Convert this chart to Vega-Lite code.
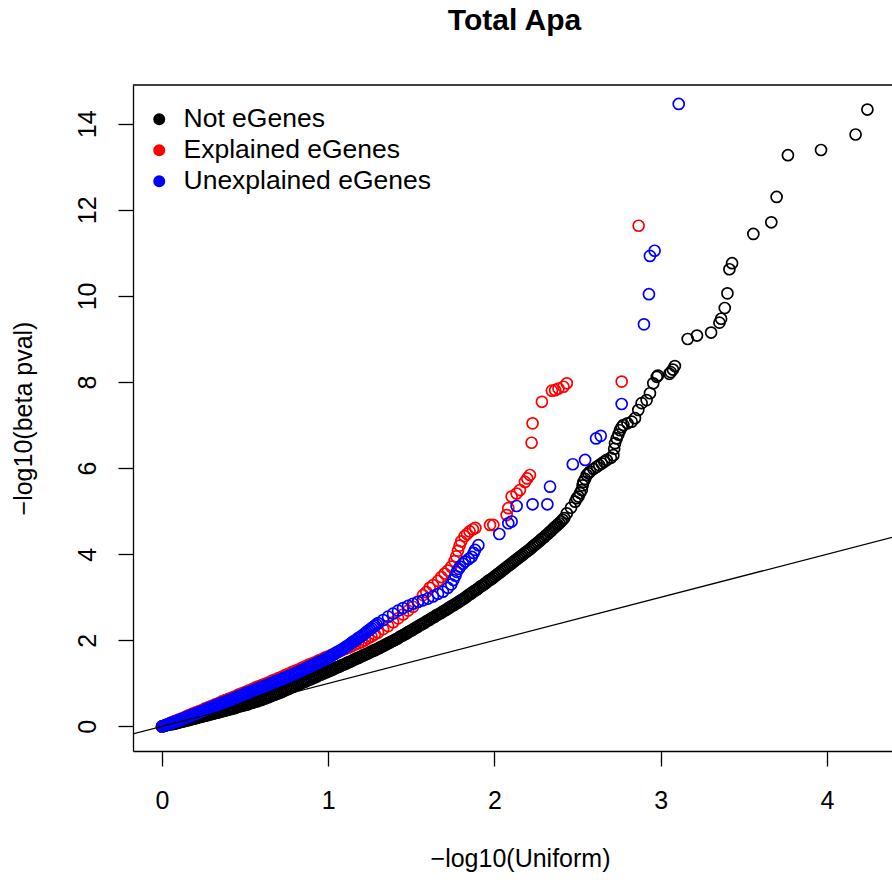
{
  "$schema": "https://vega.github.io/schema/vega-lite/v6.json",
  "width": 759,
  "height": 666,
  "autosize": {"type": "none"},
  "padding": {"left": 133, "top": 85, "right": 0, "bottom": 131},
  "background": "white",
  "config": {
    "view": {"stroke": null},
    "font": "Liberation Sans",
    "legend": {
      "orient": "none",
      "legendX": 13,
      "legendY": 21,
      "title": null,
      "padding": 0,
      "symbolType": "circle",
      "symbolSize": 36,
      "symbolStrokeWidth": 6,
      "labelFont": "Liberation Sans",
      "labelFontSize": 26.5,
      "labelColor": "black",
      "labelLimit": 0,
      "labelOffset": 11,
      "rowPadding": 0
    }
  },
  "title": {
    "text": "Total Apa",
    "font": "Liberation Sans",
    "fontSize": 30,
    "fontWeight": "bold",
    "color": "black",
    "anchor": "middle",
    "frame": "group",
    "baseline": "alphabetic",
    "offset": 24,
    "dx": 2
  },
  "datasets": {
    "notEgenes": [
      {"x":0.00,"y":0.00},{"x":0.01,"y":0.01},{"x":0.02,"y":0.02},{"x":0.03,"y":0.03},{"x":0.04,"y":0.04},
      {"x":0.05,"y":0.05},{"x":0.06,"y":0.05},{"x":0.07,"y":0.06},{"x":0.08,"y":0.07},{"x":0.09,"y":0.08},
      {"x":0.10,"y":0.09},{"x":0.11,"y":0.10},{"x":0.12,"y":0.11},{"x":0.13,"y":0.12},{"x":0.14,"y":0.13},
      {"x":0.15,"y":0.14},{"x":0.16,"y":0.15},{"x":0.17,"y":0.16},{"x":0.18,"y":0.17},{"x":0.19,"y":0.18},
      {"x":0.20,"y":0.19},{"x":0.21,"y":0.20},{"x":0.22,"y":0.21},{"x":0.23,"y":0.22},{"x":0.24,"y":0.23},
      {"x":0.25,"y":0.24},{"x":0.26,"y":0.25},{"x":0.27,"y":0.26},{"x":0.28,"y":0.27},{"x":0.29,"y":0.28},
      {"x":0.30,"y":0.29},{"x":0.31,"y":0.30},{"x":0.32,"y":0.31},{"x":0.33,"y":0.32},{"x":0.34,"y":0.33},
      {"x":0.35,"y":0.34},{"x":0.36,"y":0.35},{"x":0.37,"y":0.36},{"x":0.38,"y":0.37},{"x":0.39,"y":0.38},
      {"x":0.40,"y":0.39},{"x":0.41,"y":0.40},{"x":0.42,"y":0.41},{"x":0.43,"y":0.42},{"x":0.44,"y":0.43},
      {"x":0.45,"y":0.45},{"x":0.46,"y":0.46},{"x":0.47,"y":0.47},{"x":0.48,"y":0.48},{"x":0.49,"y":0.49},
      {"x":0.50,"y":0.50},{"x":0.51,"y":0.51},{"x":0.52,"y":0.52},{"x":0.53,"y":0.54},{"x":0.54,"y":0.55},
      {"x":0.55,"y":0.56},{"x":0.56,"y":0.57},{"x":0.57,"y":0.58},{"x":0.58,"y":0.60},{"x":0.59,"y":0.61},
      {"x":0.60,"y":0.62},{"x":0.61,"y":0.64},{"x":0.62,"y":0.65},{"x":0.63,"y":0.67},{"x":0.64,"y":0.68},
      {"x":0.65,"y":0.70},{"x":0.66,"y":0.71},{"x":0.67,"y":0.73},{"x":0.68,"y":0.74},{"x":0.69,"y":0.76},
      {"x":0.70,"y":0.77},{"x":0.71,"y":0.79},{"x":0.72,"y":0.80},{"x":0.73,"y":0.82},{"x":0.74,"y":0.84},
      {"x":0.75,"y":0.86},{"x":0.76,"y":0.87},{"x":0.77,"y":0.89},{"x":0.78,"y":0.91},{"x":0.79,"y":0.92},
      {"x":0.80,"y":0.94},{"x":0.81,"y":0.96},{"x":0.82,"y":0.97},{"x":0.83,"y":0.99},{"x":0.84,"y":1.01},
      {"x":0.85,"y":1.03},{"x":0.86,"y":1.04},{"x":0.87,"y":1.06},{"x":0.88,"y":1.08},{"x":0.89,"y":1.09},
      {"x":0.90,"y":1.11},{"x":0.91,"y":1.13},{"x":0.92,"y":1.14},{"x":0.93,"y":1.16},{"x":0.94,"y":1.18},
      {"x":0.95,"y":1.20},{"x":0.96,"y":1.21},{"x":0.97,"y":1.23},{"x":0.98,"y":1.25},{"x":0.99,"y":1.26},
      {"x":1.00,"y":1.28},{"x":1.01,"y":1.30},{"x":1.02,"y":1.31},{"x":1.03,"y":1.33},{"x":1.04,"y":1.35},
      {"x":1.05,"y":1.37},{"x":1.06,"y":1.38},{"x":1.07,"y":1.40},{"x":1.08,"y":1.42},{"x":1.09,"y":1.43},
      {"x":1.10,"y":1.45},{"x":1.11,"y":1.47},{"x":1.12,"y":1.49},{"x":1.13,"y":1.50},{"x":1.14,"y":1.52},
      {"x":1.15,"y":1.54},{"x":1.16,"y":1.56},{"x":1.17,"y":1.58},{"x":1.18,"y":1.59},{"x":1.19,"y":1.61},
      {"x":1.20,"y":1.63},{"x":1.21,"y":1.65},{"x":1.22,"y":1.67},{"x":1.23,"y":1.68},{"x":1.24,"y":1.70},
      {"x":1.25,"y":1.72},{"x":1.26,"y":1.74},{"x":1.27,"y":1.76},{"x":1.28,"y":1.77},{"x":1.29,"y":1.79},
      {"x":1.30,"y":1.81},{"x":1.31,"y":1.83},{"x":1.32,"y":1.85},{"x":1.33,"y":1.87},{"x":1.34,"y":1.89},
      {"x":1.35,"y":1.91},{"x":1.36,"y":1.93},{"x":1.37,"y":1.95},{"x":1.38,"y":1.97},{"x":1.39,"y":1.99},
      {"x":1.40,"y":2.01},{"x":1.41,"y":2.03},{"x":1.42,"y":2.05},{"x":1.43,"y":2.08},{"x":1.44,"y":2.10},
      {"x":1.45,"y":2.12},{"x":1.46,"y":2.14},{"x":1.47,"y":2.16},{"x":1.48,"y":2.19},{"x":1.49,"y":2.21},
      {"x":1.50,"y":2.23},{"x":1.51,"y":2.25},{"x":1.52,"y":2.28},{"x":1.53,"y":2.30},{"x":1.54,"y":2.32},
      {"x":1.55,"y":2.35},{"x":1.56,"y":2.37},{"x":1.57,"y":2.39},{"x":1.58,"y":2.41},{"x":1.59,"y":2.44},
      {"x":1.60,"y":2.46},{"x":1.61,"y":2.48},{"x":1.62,"y":2.51},{"x":1.63,"y":2.53},{"x":1.64,"y":2.55},
      {"x":1.65,"y":2.58},{"x":1.66,"y":2.60},{"x":1.67,"y":2.62},{"x":1.68,"y":2.64},{"x":1.69,"y":2.67},
      {"x":1.70,"y":2.69},{"x":1.71,"y":2.71},{"x":1.72,"y":2.74},{"x":1.73,"y":2.76},{"x":1.74,"y":2.79},
      {"x":1.75,"y":2.81},{"x":1.76,"y":2.83},{"x":1.77,"y":2.86},{"x":1.78,"y":2.88},{"x":1.79,"y":2.91},
      {"x":1.80,"y":2.93},{"x":1.81,"y":2.96},{"x":1.82,"y":2.98},{"x":1.83,"y":3.01},{"x":1.84,"y":3.04},
      {"x":1.85,"y":3.07},{"x":1.86,"y":3.09},{"x":1.87,"y":3.12},{"x":1.88,"y":3.15},{"x":1.89,"y":3.17},
      {"x":1.90,"y":3.20},{"x":1.91,"y":3.23},{"x":1.92,"y":3.26},{"x":1.93,"y":3.28},{"x":1.94,"y":3.31},
      {"x":1.95,"y":3.34},{"x":1.96,"y":3.37},{"x":1.97,"y":3.40},{"x":1.98,"y":3.42},{"x":1.99,"y":3.45},
      {"x":2.00,"y":3.48},{"x":2.01,"y":3.51},{"x":2.02,"y":3.54},{"x":2.03,"y":3.57},{"x":2.04,"y":3.60},
      {"x":2.05,"y":3.63},{"x":2.06,"y":3.66},{"x":2.07,"y":3.69},{"x":2.08,"y":3.72},{"x":2.09,"y":3.75},
      {"x":2.10,"y":3.78},{"x":2.11,"y":3.81},{"x":2.12,"y":3.84},{"x":2.13,"y":3.87},{"x":2.14,"y":3.90},
      {"x":2.15,"y":3.93},{"x":2.16,"y":3.96},{"x":2.17,"y":3.99},{"x":2.18,"y":4.02},{"x":2.19,"y":4.05},
      {"x":2.20,"y":4.08},{"x":2.21,"y":4.11},{"x":2.22,"y":4.14},{"x":2.23,"y":4.18},{"x":2.24,"y":4.21},
      {"x":2.25,"y":4.24},{"x":2.26,"y":4.27},{"x":2.27,"y":4.30},{"x":2.28,"y":4.34},{"x":2.29,"y":4.37},
      {"x":2.30,"y":4.40},{"x":2.31,"y":4.44},{"x":2.32,"y":4.47},{"x":2.33,"y":4.51},{"x":2.34,"y":4.54},
      {"x":2.35,"y":4.58},{"x":2.36,"y":4.62},{"x":2.37,"y":4.65},{"x":2.38,"y":4.69},{"x":2.39,"y":4.72},
      {"x":2.40,"y":4.76},{"x":2.41,"y":4.80},{"x":2.42,"y":4.84},{"x":2.435,"y":4.95},{"x":2.46,"y":5.08},
      {"x":2.485,"y":5.22},{"x":2.495,"y":5.30},{"x":2.505,"y":5.34},{"x":2.515,"y":5.42},{"x":2.525,"y":5.49},
      {"x":2.53,"y":5.60},{"x":2.535,"y":5.68},{"x":2.545,"y":5.75},{"x":2.555,"y":5.84},{"x":2.565,"y":5.88},
      {"x":2.575,"y":5.92},{"x":2.595,"y":5.98},{"x":2.615,"y":6.03},{"x":2.63,"y":6.07},{"x":2.645,"y":6.11},
      {"x":2.66,"y":6.15},{"x":2.675,"y":6.19},{"x":2.70,"y":6.24},{"x":2.715,"y":6.30},{"x":2.72,"y":6.45},
      {"x":2.725,"y":6.58},{"x":2.735,"y":6.69},{"x":2.745,"y":6.78},{"x":2.755,"y":6.88},{"x":2.765,"y":6.95},
      {"x":2.775,"y":7.00},{"x":2.80,"y":7.04},{"x":2.825,"y":7.08},{"x":2.845,"y":7.16},{"x":2.865,"y":7.35},
      {"x":2.885,"y":7.51},{"x":2.915,"y":7.58},{"x":2.935,"y":7.74},{"x":2.955,"y":7.97},{"x":2.976,"y":8.12},
      {"x":2.983,"y":8.15},{"x":3.052,"y":8.19},{"x":3.06,"y":8.23},{"x":3.073,"y":8.29},{"x":3.085,"y":8.37},
      {"x":3.162,"y":9.00},{"x":3.218,"y":9.08},{"x":3.303,"y":9.15},{"x":3.353,"y":9.38},{"x":3.363,"y":9.47},
      {"x":3.385,"y":9.72},{"x":3.401,"y":10.06},{"x":3.413,"y":10.62},{"x":3.429,"y":10.76},{"x":3.557,"y":11.44},
      {"x":3.665,"y":11.71},{"x":3.697,"y":12.30},{"x":3.765,"y":13.27},{"x":3.964,"y":13.39},{"x":4.172,"y":13.75},
      {"x":4.243,"y":14.33}
    ],
    "explained": [
      {"x":0.00,"y":0.00},{"x":0.02,"y":0.03},{"x":0.04,"y":0.06},{"x":0.06,"y":0.10},{"x":0.08,"y":0.13},
      {"x":0.10,"y":0.16},{"x":0.12,"y":0.19},{"x":0.14,"y":0.22},{"x":0.16,"y":0.26},{"x":0.18,"y":0.29},
      {"x":0.20,"y":0.32},{"x":0.22,"y":0.35},{"x":0.24,"y":0.38},{"x":0.26,"y":0.42},{"x":0.28,"y":0.45},
      {"x":0.30,"y":0.48},{"x":0.32,"y":0.51},{"x":0.34,"y":0.54},{"x":0.36,"y":0.58},{"x":0.38,"y":0.61},
      {"x":0.40,"y":0.64},{"x":0.42,"y":0.67},{"x":0.44,"y":0.70},{"x":0.46,"y":0.74},{"x":0.48,"y":0.77},
      {"x":0.50,"y":0.80},{"x":0.52,"y":0.83},{"x":0.54,"y":0.86},{"x":0.56,"y":0.90},{"x":0.58,"y":0.93},
      {"x":0.60,"y":0.96},{"x":0.62,"y":0.99},{"x":0.64,"y":1.02},{"x":0.66,"y":1.06},{"x":0.68,"y":1.09},
      {"x":0.70,"y":1.12},{"x":0.72,"y":1.15},{"x":0.74,"y":1.19},{"x":0.76,"y":1.22},{"x":0.78,"y":1.26},
      {"x":0.80,"y":1.29},{"x":0.82,"y":1.32},{"x":0.84,"y":1.36},{"x":0.86,"y":1.39},{"x":0.88,"y":1.43},
      {"x":0.90,"y":1.46},{"x":0.92,"y":1.49},{"x":0.94,"y":1.53},{"x":0.96,"y":1.56},{"x":0.98,"y":1.60},
      {"x":1.00,"y":1.63},{"x":1.02,"y":1.66},{"x":1.04,"y":1.70},{"x":1.06,"y":1.73},{"x":1.08,"y":1.77},
      {"x":1.10,"y":1.80},{"x":1.12,"y":1.83},{"x":1.14,"y":1.86},{"x":1.16,"y":1.90},{"x":1.18,"y":1.93},
      {"x":1.20,"y":1.96},{"x":1.22,"y":2.00},{"x":1.24,"y":2.05},{"x":1.26,"y":2.09},{"x":1.28,"y":2.14},
      {"x":1.30,"y":2.18},{"x":1.33,"y":2.26},{"x":1.36,"y":2.33},{"x":1.39,"y":2.42},{"x":1.42,"y":2.51},
      {"x":1.45,"y":2.60},{"x":1.48,"y":2.69},{"x":1.51,"y":2.78},{"x":1.54,"y":2.90},{"x":1.57,"y":3.05},
      {"x":1.59,"y":3.12},{"x":1.61,"y":3.22},{"x":1.63,"y":3.28},{"x":1.66,"y":3.38},{"x":1.68,"y":3.47},
      {"x":1.70,"y":3.55},{"x":1.72,"y":3.62},{"x":1.74,"y":3.71},{"x":1.76,"y":3.84},{"x":1.77,"y":3.95},
      {"x":1.78,"y":4.08},{"x":1.79,"y":4.20},{"x":1.80,"y":4.30},{"x":1.82,"y":4.42},{"x":1.835,"y":4.47},
      {"x":1.85,"y":4.53},{"x":1.87,"y":4.58},{"x":1.885,"y":4.61},{"x":1.973,"y":4.68},{"x":1.993,"y":4.68},
      {"x":2.073,"y":4.91},{"x":2.083,"y":5.07},{"x":2.103,"y":5.34},{"x":2.133,"y":5.41},{"x":2.153,"y":5.49},
      {"x":2.183,"y":5.68},{"x":2.197,"y":5.76},{"x":2.213,"y":5.84},{"x":2.223,"y":6.59},{"x":2.229,"y":7.04},
      {"x":2.285,"y":7.54},{"x":2.345,"y":7.80},{"x":2.365,"y":7.81},{"x":2.385,"y":7.85},{"x":2.415,"y":7.89},
      {"x":2.435,"y":7.97},{"x":2.765,"y":8.01},{"x":2.867,"y":11.63}
    ],
    "unexplained": [
      {"x":0.00,"y":0.00},{"x":0.01,"y":0.01},{"x":0.02,"y":0.03},{"x":0.03,"y":0.04},{"x":0.04,"y":0.06},
      {"x":0.05,"y":0.07},{"x":0.06,"y":0.08},{"x":0.07,"y":0.10},{"x":0.08,"y":0.11},{"x":0.09,"y":0.13},
      {"x":0.10,"y":0.14},{"x":0.11,"y":0.16},{"x":0.12,"y":0.17},{"x":0.13,"y":0.19},{"x":0.14,"y":0.20},
      {"x":0.15,"y":0.22},{"x":0.16,"y":0.23},{"x":0.17,"y":0.25},{"x":0.18,"y":0.26},{"x":0.19,"y":0.28},
      {"x":0.20,"y":0.29},{"x":0.21,"y":0.31},{"x":0.22,"y":0.32},{"x":0.23,"y":0.34},{"x":0.24,"y":0.35},
      {"x":0.25,"y":0.37},{"x":0.26,"y":0.39},{"x":0.27,"y":0.40},{"x":0.28,"y":0.42},{"x":0.29,"y":0.43},
      {"x":0.30,"y":0.45},{"x":0.31,"y":0.47},{"x":0.32,"y":0.48},{"x":0.33,"y":0.50},{"x":0.34,"y":0.51},
      {"x":0.35,"y":0.53},{"x":0.36,"y":0.54},{"x":0.37,"y":0.56},{"x":0.38,"y":0.57},{"x":0.39,"y":0.59},
      {"x":0.40,"y":0.60},{"x":0.41,"y":0.62},{"x":0.42,"y":0.63},{"x":0.43,"y":0.65},{"x":0.44,"y":0.66},
      {"x":0.45,"y":0.68},{"x":0.46,"y":0.70},{"x":0.47,"y":0.71},{"x":0.48,"y":0.73},{"x":0.49,"y":0.74},
      {"x":0.50,"y":0.76},{"x":0.51,"y":0.78},{"x":0.52,"y":0.79},{"x":0.53,"y":0.81},{"x":0.54,"y":0.82},
      {"x":0.55,"y":0.84},{"x":0.56,"y":0.85},{"x":0.57,"y":0.87},{"x":0.58,"y":0.88},{"x":0.59,"y":0.90},
      {"x":0.60,"y":0.91},{"x":0.61,"y":0.93},{"x":0.62,"y":0.94},{"x":0.63,"y":0.96},{"x":0.64,"y":0.97},
      {"x":0.65,"y":0.99},{"x":0.66,"y":1.01},{"x":0.67,"y":1.02},{"x":0.68,"y":1.04},{"x":0.69,"y":1.05},
      {"x":0.70,"y":1.07},{"x":0.71,"y":1.09},{"x":0.72,"y":1.10},{"x":0.73,"y":1.12},{"x":0.74,"y":1.13},
      {"x":0.75,"y":1.15},{"x":0.76,"y":1.17},{"x":0.77,"y":1.18},{"x":0.78,"y":1.20},{"x":0.79,"y":1.21},
      {"x":0.80,"y":1.23},{"x":0.81,"y":1.25},{"x":0.82,"y":1.27},{"x":0.83,"y":1.28},{"x":0.84,"y":1.30},
      {"x":0.85,"y":1.32},{"x":0.86,"y":1.34},{"x":0.87,"y":1.36},{"x":0.88,"y":1.37},{"x":0.89,"y":1.39},
      {"x":0.90,"y":1.41},{"x":0.91,"y":1.43},{"x":0.92,"y":1.45},{"x":0.93,"y":1.47},{"x":0.94,"y":1.49},
      {"x":0.95,"y":1.51},{"x":0.96,"y":1.52},{"x":0.97,"y":1.54},{"x":0.98,"y":1.56},{"x":0.99,"y":1.58},
      {"x":1.00,"y":1.60},{"x":1.01,"y":1.62},{"x":1.02,"y":1.65},{"x":1.03,"y":1.67},{"x":1.04,"y":1.69},
      {"x":1.05,"y":1.72},{"x":1.06,"y":1.74},{"x":1.07,"y":1.76},{"x":1.08,"y":1.78},{"x":1.09,"y":1.81},
      {"x":1.10,"y":1.83},{"x":1.11,"y":1.86},{"x":1.12,"y":1.88},{"x":1.13,"y":1.91},{"x":1.14,"y":1.94},
      {"x":1.15,"y":1.97},{"x":1.16,"y":1.99},{"x":1.17,"y":2.02},{"x":1.18,"y":2.05},{"x":1.19,"y":2.07},
      {"x":1.20,"y":2.10},{"x":1.21,"y":2.13},{"x":1.22,"y":2.16},{"x":1.23,"y":2.19},{"x":1.24,"y":2.22},
      {"x":1.25,"y":2.25},{"x":1.26,"y":2.28},{"x":1.27,"y":2.31},{"x":1.28,"y":2.34},{"x":1.29,"y":2.37},
      {"x":1.30,"y":2.40},{"x":1.33,"y":2.47},{"x":1.36,"y":2.55},{"x":1.39,"y":2.62},{"x":1.42,"y":2.69},
      {"x":1.45,"y":2.75},{"x":1.48,"y":2.80},{"x":1.51,"y":2.85},{"x":1.54,"y":2.89},{"x":1.57,"y":2.93},
      {"x":1.60,"y":2.97},{"x":1.63,"y":3.02},{"x":1.66,"y":3.08},{"x":1.69,"y":3.13},{"x":1.72,"y":3.22},
      {"x":1.74,"y":3.30},{"x":1.753,"y":3.40},{"x":1.765,"y":3.50},{"x":1.773,"y":3.59},{"x":1.785,"y":3.66},
      {"x":1.793,"y":3.71},{"x":1.81,"y":3.78},{"x":1.823,"y":3.83},{"x":1.845,"y":3.89},{"x":1.863,"y":3.94},
      {"x":1.875,"y":4.03},{"x":1.883,"y":4.10},{"x":1.903,"y":4.21},{"x":2.029,"y":4.47},{"x":2.083,"y":4.72},
      {"x":2.103,"y":4.76},{"x":2.133,"y":5.12},{"x":2.229,"y":5.16},{"x":2.318,"y":5.16},{"x":2.334,"y":5.57},
      {"x":2.471,"y":6.09},{"x":2.545,"y":6.19},{"x":2.611,"y":6.69},{"x":2.639,"y":6.75},{"x":2.765,"y":7.49},
      {"x":2.899,"y":9.34},{"x":2.929,"y":10.04},{"x":2.935,"y":10.93},{"x":2.963,"y":11.05},{"x":3.108,"y":14.46}
    ],
    "identity": [
      {"x":-1,"y":-1},{"x":6,"y":6}
    ],
    "frameTop": [
      {"x":-0.1744,"x2":4.391,"y":14.9}
    ]
  },
  "encoding": {
    "x": {
      "field": "x", "type": "quantitative",
      "scale": {"domain": [-0.1744, 4.391], "nice": false, "zero": false},
      "axis": {
        "values": [0, 1, 2, 3, 4], "grid": false,
        "domainColor": "black", "domainWidth": 1.3,
        "tickColor": "black", "tickWidth": 1.3, "tickSize": 15,
        "labelFont": "Liberation Sans", "labelFontSize": 25, "labelColor": "black",
        "labelBaseline": "alphabetic", "labelPadding": 42, "labelFlush": false, "labelOverlap": false,
        "title": "−log10(Uniform)", "titleFont": "Liberation Sans", "titleFontSize": 25,
        "titleFontWeight": "normal", "titleColor": "black", "titleBaseline": "alphabetic",
        "titleAlign": "center", "titleX": 387, "titleY": 115
      }
    },
    "y": {
      "field": "y", "type": "quantitative",
      "scale": {"domain": [-0.571, 14.9], "nice": false, "zero": false},
      "axis": {
        "values": [0, 2, 4, 6, 8, 10, 12, 14], "grid": false,
        "domainColor": "black", "domainWidth": 1.3,
        "tickColor": "black", "tickWidth": 1.3, "tickSize": 15,
        "labelFont": "Liberation Sans", "labelFontSize": 25, "labelColor": "black",
        "labelAngle": -90, "labelAlign": "center", "labelBaseline": "alphabetic",
        "labelPadding": 23, "labelFlush": false, "labelOverlap": false,
        "title": "−log10(beta pval)", "titleFont": "Liberation Sans", "titleFontSize": 25,
        "titleFontWeight": "normal", "titleColor": "black", "titleAngle": -90,
        "titleAlign": "center", "titleBaseline": "alphabetic", "titleX": -102, "titleY": 333
      }
    }
  },
  "layer": [
    {
      "data": {"name": "notEgenes"},
      "mark": {"type": "point", "filled": false, "size": 121, "strokeWidth": 1.7, "opacity": 1},
      "encoding": {
        "color": {
          "datum": "Not eGenes", "type": "nominal",
          "scale": {"domain": ["Not eGenes", "Explained eGenes", "Unexplained eGenes"], "range": ["#000000", "#FF0000", "#0000FF"]}
        }
      }
    },
    {
      "data": {"name": "explained"},
      "mark": {"type": "point", "filled": false, "size": 121, "strokeWidth": 1.7, "opacity": 1},
      "encoding": {
        "color": {"datum": "Explained eGenes", "type": "nominal"}
      }
    },
    {
      "data": {"name": "unexplained"},
      "mark": {"type": "point", "filled": false, "size": 121, "strokeWidth": 1.7, "opacity": 1},
      "encoding": {
        "color": {"datum": "Unexplained eGenes", "type": "nominal"}
      }
    },
    {
      "data": {"name": "identity"},
      "mark": {"type": "line", "color": "black", "strokeWidth": 1.3, "clip": true},
      "encoding": {}
    },
    {
      "data": {"name": "frameTop"},
      "mark": {"type": "rule", "color": "black", "strokeWidth": 1.3},
      "encoding": {
        "x2": {"field": "x2"}
      }
    }
  ]
}
